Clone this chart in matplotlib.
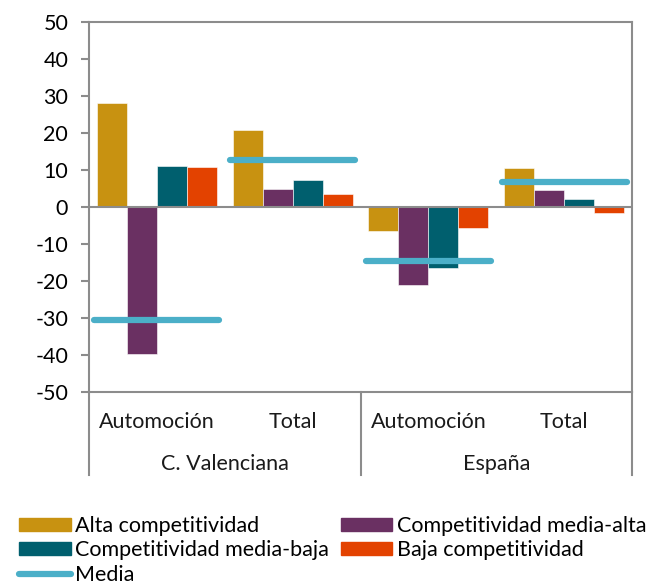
import numpy as np
import matplotlib.pyplot as plt
from matplotlib.lines import Line2D
from matplotlib.patches import Patch

plt.rcParams['font.family'] = ['Lato', 'DejaVu Sans']
plt.rcParams['axes.unicode_minus'] = False

categories = ['Automoción', 'Total', 'Automoción', 'Total']
regions = ['C. Valenciana', 'España']
series_names = ['Alta competitividad', 'Competitividad media-alta',
                'Competitividad media-baja', 'Baja competitividad']
alta = [28.0, 20.9, -6.4, 10.5]
media_alta = [-39.7, 5.0, -21.2, 4.5]
media_baja = [11.1, 7.2, -16.5, 2.2]
baja = [10.7, 3.6, -5.7, -1.5]
media = [-30.6, 12.7, -14.7, 6.8]
yticks = [50, 40, 30, 20, 10, 0, -10, -20, -30, -40, -50]

colors = ['#C89211', '#6A3062', '#005F6E', '#E34200']
media_color = '#4BAFC8'
frame_color = '#8C8C8C'
fs = 15.5

fig = plt.figure(figsize=(6.46, 5.85), dpi=100)
ax = fig.add_axes([89 / 646, 1 - 392 / 585, (632 - 89) / 646, 370 / 585])

x = np.arange(len(categories))
width = 0.221
for i, vals in enumerate([alta, media_alta, media_baja, baja]):
    ax.bar(x + (i - 1.5) * width, vals, width, color=colors[i],
           edgecolor='white', linewidth=0.4, zorder=2)

ax.axhline(0, color=frame_color, lw=1.5, zorder=3)

# average marker over each group of bars
for xi, m in zip(x, media):
    ax.plot([xi - 0.46, xi + 0.46], [m, m], color=media_color, lw=4.5,
            solid_capstyle='round', zorder=4)

ax.set_xlim(-0.5, len(categories) - 0.5)
ax.set_ylim(-50, 50)
ax.set_yticks(yticks)
ax.set_xticks([])
ax.tick_params(axis='y', length=6, width=1.5, color=frame_color, pad=9,
               labelsize=fs)
for s in ax.spines.values():
    s.set_color(frame_color)
    s.set_linewidth(1.5)

# two-level category labels under the axis
trans = ax.get_xaxis_transform()
for xi, c in zip(x, categories):
    ax.text(xi, -0.08, c, transform=trans, ha='center', va='center',
            fontsize=fs, color='#1a1a1a')
for j, r in enumerate(regions):
    ax.text(2 * j + 0.5, -0.195, r, transform=trans, ha='center',
            va='center', fontsize=fs, color='#1a1a1a')
for xv in [-0.5, 1.5, 3.5]:
    ax.add_line(Line2D([xv, xv], [0, -0.225], transform=trans,
                       color=frame_color, lw=1.5, clip_on=False))

handles = [Patch(color=colors[0]), Patch(color=colors[2]),
           Line2D([], [], color=media_color, lw=4.5, solid_capstyle='round'),
           Patch(color=colors[1]), Patch(color=colors[3])]
labels = [series_names[0], series_names[2], 'Media',
          series_names[1], series_names[3]]
fig.legend(handles, labels, ncol=2, loc='upper left',
           bbox_to_anchor=(19 / 646, 1 - 516 / 585), frameon=False,
           fontsize=fs, handlelength=2.4, handleheight=0.55,
           handletextpad=0.2, labelspacing=0.2, columnspacing=0.55,
           borderaxespad=0, borderpad=0)

fig.savefig('out.png', dpi=100)
